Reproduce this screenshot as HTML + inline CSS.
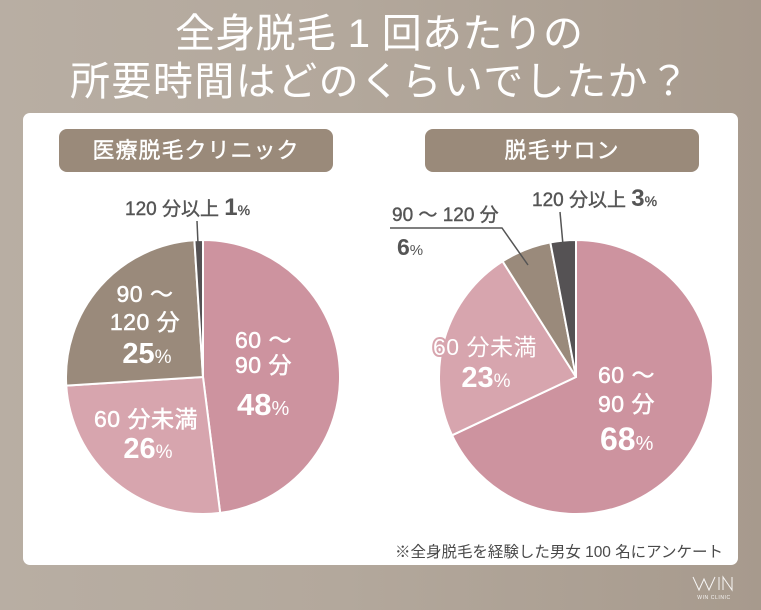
<!DOCTYPE html>
<html><head><meta charset="utf-8">
<style>
html,body{margin:0;padding:0;}
body{width:761px;height:610px;overflow:hidden;background:linear-gradient(90deg,#b8aea3 0%,#b3a89c 45%,#a79a8d 100%);}
svg{display:block;}
text{font-family:"Liberation Sans","Noto Sans CJK JP",sans-serif;}
</style></head>
<body>
<svg width="761" height="610" viewBox="0 0 761 610" xmlns="http://www.w3.org/2000/svg">
  <!-- Title -->
  <text x="175" y="47" font-size="40" fill="#ffffff" textLength="408" lengthAdjust="spacing">全身脱毛 1 回あたりの</text>
  <text x="70" y="95" font-size="40" fill="#ffffff" textLength="619" lengthAdjust="spacing">所要時間はどのくらいでしたか？</text>

  <!-- White panel -->
  <rect x="23" y="113" width="715" height="452" rx="7" ry="7" fill="#ffffff"/>

  <!-- Pills -->
  <rect x="59" y="129" width="274" height="43" rx="8" ry="8" fill="#9a8a7a"/>
  <text x="196" y="158" font-size="22" fill="#ffffff" stroke="#ffffff" stroke-width="0.4" text-anchor="middle" letter-spacing="1">医療脱毛クリニック</text>
  <rect x="425" y="129" width="274" height="43" rx="8" ry="8" fill="#9a8a7a"/>
  <text x="562" y="158" font-size="22" fill="#ffffff" stroke="#ffffff" stroke-width="0.4" text-anchor="middle" letter-spacing="1">脱毛サロン</text>

  <!-- Left pie -->
  <g stroke="#ffffff" stroke-width="2" stroke-linejoin="round">
    <path d="M203,377 L203,240 A137,137 0 0 1 220.17,512.92 Z" fill="#cd939f"/>
    <path d="M203,377 L220.17,512.92 A137,137 0 0 1 66.27,385.6 Z" fill="#d7a5ae"/>
    <path d="M203,377 L66.27,385.6 A137,137 0 0 1 194.4,240.27 Z" fill="#9a8a7b"/>
    <path d="M203,377 L194.4,240.27 A137,137 0 0 1 203,240 Z" fill="#555254"/>
  </g>

  <!-- Right pie -->
  <g stroke="#ffffff" stroke-width="2" stroke-linejoin="round">
    <path d="M576,377 L576,240 A137,137 0 1 1 452.04,435.33 Z" fill="#cd939f"/>
    <path d="M576,377 L452.04,435.33 A137,137 0 0 1 502.59,261.33 Z" fill="#d7a5ae"/>
    <path d="M576,377 L502.59,261.33 A137,137 0 0 1 550.33,242.42 Z" fill="#9a8a7b"/>
    <path d="M576,377 L550.33,242.42 A137,137 0 0 1 576,240 Z" fill="#555254"/>
  </g>

  <!-- Left labels -->
  <g fill="#ffffff" stroke="#ffffff" stroke-width="0.5">
    <text x="235" y="348" font-size="23" letter-spacing="0.5">60 〜</text>
    <text x="235" y="373" font-size="23" letter-spacing="0.5">90 分</text>
    <text x="237" y="415" font-weight="bold" stroke-width="0"><tspan font-size="31">48</tspan><tspan font-size="20" font-weight="normal">%</tspan></text>

    <text x="145" y="302" font-size="23" text-anchor="middle" letter-spacing="0.5">90 〜</text>
    <text x="145" y="330" font-size="23" text-anchor="middle" letter-spacing="0.5">120 分</text>
    <text x="147" y="363" font-weight="bold" text-anchor="middle" stroke-width="0"><tspan font-size="29">25</tspan><tspan font-size="19" font-weight="normal">%</tspan></text>

    <text x="146" y="427" font-size="23" text-anchor="middle" letter-spacing="0.5">60 分未満</text>
    <text x="148" y="458" font-weight="bold" text-anchor="middle" stroke-width="0"><tspan font-size="29">26</tspan><tspan font-size="19" font-weight="normal">%</tspan></text>
  </g>

  <!-- Left leader -->
  <line x1="197" y1="221" x2="198" y2="244" stroke="#555555" stroke-width="1.5"/>
  <text x="125" y="215" fill="#555555" stroke="#555555" stroke-width="0.4"><tspan font-size="19">120 分以上 </tspan><tspan font-size="24" font-weight="bold" stroke-width="0">1</tspan><tspan font-size="14">%</tspan></text>

  <!-- Right outer labels -->
  <line x1="560" y1="212" x2="563" y2="245" stroke="#555555" stroke-width="1.5"/>
  <text x="532" y="206" fill="#555555" stroke="#555555" stroke-width="0.4"><tspan font-size="19">120 分以上 </tspan><tspan font-size="24" font-weight="bold" stroke-width="0">3</tspan><tspan font-size="14">%</tspan></text>

  <polyline points="390,228 502,228 528,265" fill="none" stroke="#555555" stroke-width="1.5"/>
  <text x="392" y="221" font-size="19" fill="#555555" stroke="#555555" stroke-width="0.4">90 〜 120 分</text>
  <text x="397" y="255" fill="#555555"><tspan font-size="23" font-weight="bold">6</tspan><tspan font-size="15">%</tspan></text>

  <!-- Right inner labels -->
  <g fill="#ffffff" stroke="#d7a5ae" stroke-width="4" stroke-linejoin="round" paint-order="stroke">
    <text x="485" y="355" font-size="23" text-anchor="middle" letter-spacing="0.5">60 分未満</text>
    <text x="486" y="387" font-weight="bold" text-anchor="middle"><tspan font-size="29">23</tspan><tspan font-size="19" font-weight="normal">%</tspan></text>
  </g>
  <g fill="#ffffff" stroke="#ffffff" stroke-width="0.5">
    <text x="598" y="383" font-size="23" letter-spacing="0.5">60 〜</text>
    <text x="598" y="412" font-size="23" letter-spacing="0.5">90 分</text>
    <text x="600" y="450" font-weight="bold" stroke-width="0"><tspan font-size="32">68</tspan><tspan font-size="20" font-weight="normal">%</tspan></text>
  </g>

  <!-- Footer note -->
  <text x="395" y="557" font-size="15.5" fill="#4a4a4a" textLength="328" lengthAdjust="spacing">※全身脱毛を経験した男女 100 名にアンケート</text>

  <!-- WIN logo -->
  <g fill="none" stroke="#ffffff" stroke-width="1" opacity="0.9">
    <polyline points="693,577 699,590 704,579 709,590 715,577"/>
    <line x1="719" y1="577" x2="719" y2="590"/>
    <polyline points="723,590 723,577 732,590 732,577"/>
  </g>
  <text x="714" y="599" font-size="5" fill="#ffffff" text-anchor="middle" letter-spacing="0.6" opacity="0.9">WIN CLINIC</text>
</svg>
</body></html>
